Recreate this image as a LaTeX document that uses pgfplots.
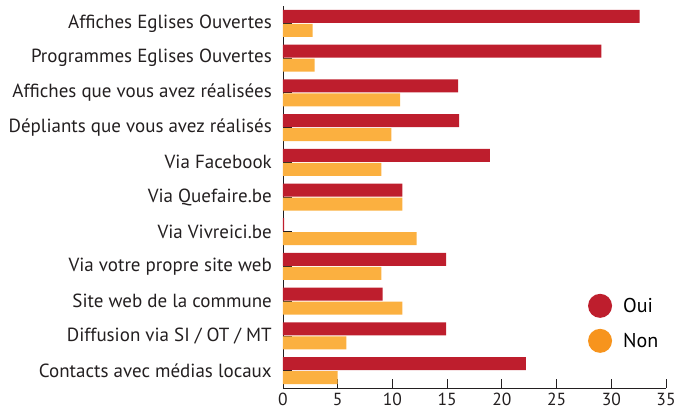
\documentclass[border=0pt]{standalone}
\usepackage{pgfplots}
\pgfplotsset{compat=1.18}
\usepackage{fontspec}
\setmainfont{PT Sans}
\definecolor{cred}{HTML}{BE1E2D}
\definecolor{corange}{HTML}{FBB040}
\definecolor{clegor}{HTML}{F7941D}
\definecolor{ctext}{HTML}{231F20}
\begin{document}
\begin{tikzpicture}
\begin{axis}[
  name=ax,
  scale only axis,
  width=383pt, height=382pt,
  xbar,
  bar width=13pt,
  xmin=0, xmax=35,
  ymin=-0.5, ymax=10.5,
  y dir=reverse,
  axis x line=bottom, axis y line=left,
  axis line style={-, draw=ctext, line width=0.8pt},
  xtick={0,5,...,35},
  ytick={0,...,10},
  yticklabels={Affiches Eglises Ouvertes, Programmes Eglises Ouvertes, Affiches que vous avez réalisées, Dépliants que vous avez réalisés, Via Facebook, Via Quefaire.be, Via Vivreici.be, Via votre propre site web, Site web de la commune, Diffusion via SI / OT / MT, Contacts avec médias locaux},
  tick align=inside,
  major tick length=9pt,
  tick style={draw=ctext, line width=0.8pt},
  /pgf/number format/assume math mode=true,
  ticklabel style={text=ctext},
  yticklabel style={font=\fontsize{19}{22}\selectfont, inner sep=0pt, xshift=-11pt},
  xticklabel style={font=\fontsize{17.5}{20}\selectfont, inner sep=0pt, yshift=-5pt},
  legend style={at={(axis description cs:0.796,0.247)}, anchor=north west, draw=none, inner sep=0pt, row sep=11pt, font=\fontsize{20}{22}\selectfont},
  legend cell align=left,
  legend image code/.code={\fill[#1] (6pt,0pt) circle (12pt); \path (27pt,0pt);},
]
\addplot[draw=none, fill=cred, bar shift=7pt]
  coordinates {(32.6,0) (29.1,1) (16.0,2) (16.1,3) (18.9,4) (10.9,5) (0.1,6) (14.9,7) (9.1,8) (14.9,9) (22.2,10)};
\addlegendentry{Oui}
\addplot[draw=none, fill=corange, bar shift=-7pt, legend image post style={fill=clegor}]
  coordinates {(2.7,0) (2.9,1) (10.7,2) (9.9,3) (9.0,4) (10.9,5) (12.2,6) (9.0,7) (10.9,8) (5.8,9) (5.0,10)};
\addlegendentry{Non}
\end{axis}
\pgfresetboundingbox
\path ([xshift=-283pt,yshift=-22pt]ax.south west) rectangle ([xshift=10pt,yshift=6pt]ax.north east);
\end{tikzpicture}
\end{document}
